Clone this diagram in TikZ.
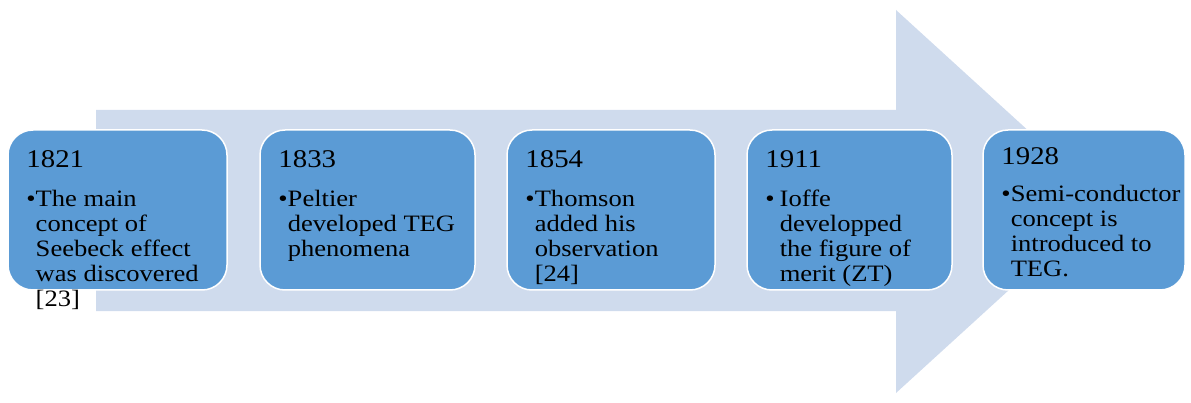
\documentclass[tikz,border=0pt]{standalone}
\usepackage{fontspec}
\setmainfont{Liberation Serif}[FakeStretch=1.13]
\usetikzlibrary{calc}
\definecolor{arrowblue}{HTML}{CFDBED}
\definecolor{boxblue}{HTML}{5B9BD5}
\newcommand{\tlitem}[2][0pt]{\textbullet\hspace{#1}\begin{tabular}[t]{@{}l@{}}#2\end{tabular}}
\tikzset{
  tlbox/.style={draw=white, line width=1.5pt, fill=boxblue, rounded corners=25pt,
    minimum height=160pt, inner sep=0pt},
  tlyear/.style={anchor=base west, inner sep=0pt, font=\fontsize{25.5}{27}\selectfont},
  tlbody/.style={anchor=base west, inner sep=0pt, font=\fontsize{23.5}{25}\selectfont},
}
\begin{document}
\begin{tikzpicture}[x=1pt,y=-1pt]
\useasboundingbox (0,0) rectangle (1191,403);
\fill[arrowblue] (96,110) -- (896,110) -- (896,10) -- (1106,201.5)
  -- (896,393) -- (896,311) -- (96,311) -- cycle;

\node[tlbox, minimum width=219pt] (b1821) at (117.5,210) {};
\node[tlbox, minimum width=215pt] (b1833) at (367.5,210) {};
\node[tlbox, minimum width=208pt] (b1854) at (611,210) {};
\node[tlbox, minimum width=205pt] (b1911) at (849.5,210) {};
\node[tlbox, minimum width=202pt] (b1928) at (1084,210) {};

\node[tlyear] (y1821) at ($(b1821.north west)+(19,38)$) {1821};
\node[tlyear] (y1833) at ($(b1833.north west)+(19,38)$) {1833};
\node[tlyear] (y1854) at ($(b1854.north west)+(19,38)$) {1854};
\node[tlyear] (y1911) at ($(b1911.north west)+(19,38)$) {1911};
\node[tlyear] (y1928) at ($(b1928.north west)+(19,35)$) {1928};

\node[tlbody] (t1821) at ($(b1821.north west)+(19,77)$)
  {\tlitem{The main\\concept of\\Seebeck effect\\was discovered\\{[23]}}};
\node[tlbody] (t1833) at ($(b1833.north west)+(19,77)$)
  {\tlitem{Peltier\\developed TEG\\phenomena}};
\node[tlbody] (t1854) at ($(b1854.north west)+(19,77)$)
  {\tlitem{Thomson\\added his\\observation\\{[24]}}};
\node[tlbody] (t1911) at ($(b1911.north west)+(19,77)$)
  {\tlitem[5pt]{Ioffe\\developped\\the figure of\\merit (ZT)}};
\node[tlbody] (t1928) at ($(b1928.north west)+(19,72)$)
  {\tlitem{Semi-conductor\\concept is\\introduced to\\TEG.}};
\end{tikzpicture}
\end{document}
